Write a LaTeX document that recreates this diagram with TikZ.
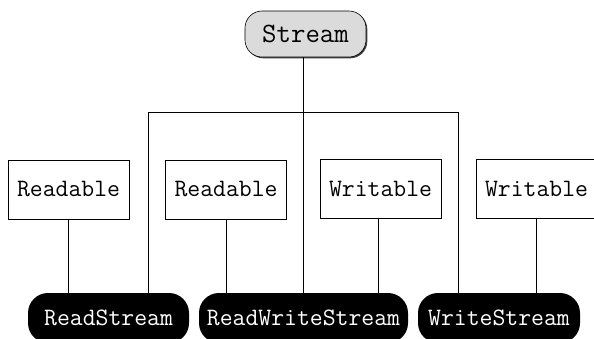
\documentclass[tikz,border=0pt]{standalone}
\usepackage{fontspec}
\usetikzlibrary{shadows}
\begin{document}
\begin{tikzpicture}[x=1pt,y=-1pt,
  ifacebox/.style={draw, line width=0.8pt, minimum width=121pt, minimum height=59pt, inner sep=0pt, font=\ttfamily\fontsize{25}{28}\selectfont},
  classbox/.style={fill=black, text=white, rounded corners=20pt, minimum height=50pt, inner sep=0pt, font=\ttfamily\fontsize{25}{28}\selectfont},
  rootbox/.style={draw, line width=0.6pt, fill=black!14, rounded corners=17pt, minimum width=121pt, minimum height=46pt, inner sep=0pt, font=\ttfamily\fontsize{28}{30}\selectfont,
    drop shadow={shadow xshift=1.3pt, shadow yshift=-1.3pt, fill=black!75, opacity=1}},
  link/.style={line width=0.8pt}]
\useasboundingbox (0,0) rectangle (594,338);
\node[rootbox] (stream) at (305.5,34) {Stream};
\node[ifacebox] (r1) at (68.5,189.5) {Readable};
\node[ifacebox] (r2) at (226,189.5) {Readable};
\node[ifacebox] (w1) at (380.5,188.5) {Writable};
\node[ifacebox] (w2) at (536.5,188.5) {Writable};
\node[classbox, minimum width=161pt] (rs) at (108.5,318) {ReadStream};
\node[classbox, minimum width=209pt] (rws) at (303.5,318) {ReadWriteStream};
\node[classbox, minimum width=162pt] (ws) at (499,318) {WriteStream};
\coordinate (jl) at (148,112);
\coordinate (jr) at (458,112);
\draw[link] (stream.south -| rws.north) -- (rws.north);
\draw[link] (jl) -- (jr);
\draw[link] (jl) -- (jl |- rs.north);
\draw[link] (jr) -- (jr |- ws.north);
\draw[link] (r1.south) -- (r1.south |- rs.north);
\draw[link] (r2.south) -- (r2.south |- rws.north);
\draw[link] ([xshift=-2pt]w1.south) -- ([xshift=-2pt]w1.south |- rws.north);
\draw[link] (w2.south) -- (w2.south |- ws.north);
\end{tikzpicture}
\end{document}
